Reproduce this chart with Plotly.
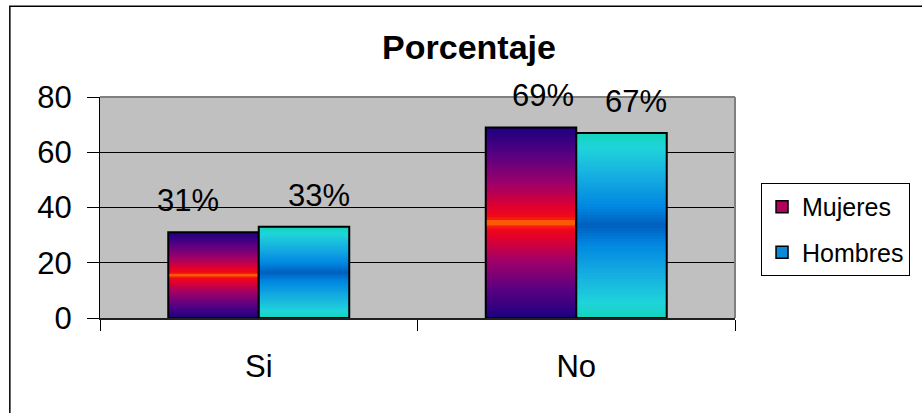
import plotly.graph_objects as go

# ---------------- data ----------------
categories = ["Si", "No"]
series_names = ["Mujeres", "Hombres"]
mujeres = [31, 69]
hombres = [33, 67]
mujeres_labels = ["31%", "69%"]
hombres_labels = ["33%", "67%"]
y_ticks = [0, 20, 40, 60, 80]

# ---------------- style ----------------
FONT = "Liberation Sans, Arial, sans-serif"
# gradient stops (t from bar bottom to mid-height), mirrored for the upper half
mujeres_stops = [(0.0, (28, 0, 128)), (0.15, (90, 0, 130)), (0.30, (160, 0, 105)),
                 (0.42, (225, 0, 45)), (0.475, (245, 10, 20)), (0.5, (255, 120, 0))]
hombres_stops = [(0.0, (18, 212, 188)), (0.08, (32, 212, 218)), (0.25, (20, 170, 225)),
                 (0.40, (0, 135, 225)), (0.5, (0, 95, 190))]
legend_colors = ["#b0005a", "#0a8ad8"]
label_xshift = {"Mujeres": [-25, 13], "Hombres": [14, 14]}
N_SEG = 70


def grad(stops, t):
    t = t if t <= 0.5 else 1 - t
    for (t0, c0), (t1, c1) in zip(stops[:-1], stops[1:]):
        if t0 <= t <= t1:
            f = (t - t0) / (t1 - t0) if t1 > t0 else 0
            c = [round(a + (b - a) * f) for a, b in zip(c0, c1)]
            return f"rgb({c[0]},{c[1]},{c[2]})"
    c = stops[-1][1]
    return f"rgb({c[0]},{c[1]},{c[2]})"


fig = go.Figure()

series = [("Mujeres", mujeres, mujeres_labels, mujeres_stops, "M", legend_colors[0]),
          ("Hombres", hombres, hombres_labels, hombres_stops, "H", legend_colors[1])]

for name, vals, labels, stops, grp, lcol in series:
    for k in range(N_SEG):
        t = (k + 0.5) / N_SEG
        bases = [v * k / N_SEG for v in vals]
        heights = [min(v / N_SEG * 1.8, v - b) for v, b in zip(vals, bases)]
        fig.add_trace(go.Bar(
            x=categories, y=heights, base=bases, offsetgroup=grp,
            marker=dict(color=grad(stops, t), line=dict(width=0)),
            showlegend=False, hoverinfo="skip"))
    # outline
    fig.add_trace(go.Bar(
        x=categories, y=vals, offsetgroup=grp, name=name,
        marker=dict(color="rgba(0,0,0,0)", line=dict(color="black", width=2)),
        showlegend=False))
    # legend entry
    fig.add_trace(go.Bar(
        x=categories, y=[None] * len(categories), offsetgroup=grp, name=name,
        legendgroup=name,
        marker=dict(color=lcol, line=dict(color="black", width=1.5)),
        showlegend=True))
    off = -46 if grp == "M" else 46
    for c, v, lab, xs in zip(categories, vals, labels, label_xshift[name]):
        fig.add_annotation(x=c, y=v, xref="x", yref="y", text=lab, showarrow=False,
                           xshift=off + xs, yshift=12, yanchor="bottom",
                           font=dict(family=FONT, size=31, color="black"))

# plot-area border (top and right, grey)
fig.add_shape(type="line", xref="x domain", yref="y domain", x0=0, x1=1, y0=1, y1=1,
              line=dict(color="#808080", width=2), layer="above")
fig.add_shape(type="line", xref="x domain", yref="y domain", x0=1, x1=1, y0=0, y1=1,
              line=dict(color="#808080", width=2), layer="above")
# outer chart border
fig.add_shape(type="rect", xref="paper", yref="paper", x0=-0.142, x1=1.3, y0=-0.5, y1=1.411,
              line=dict(color="black", width=1.5), layer="above")

fig.update_layout(
    width=922, height=413,
    margin=dict(l=100, r=181, t=97, b=95),
    paper_bgcolor="white", plot_bgcolor="#c0c0c0",
    barmode="group", bargap=0.43, bargroupgap=0,
    font=dict(family=FONT, size=24, color="black"),
    title=dict(text="<b>Porcentaje</b>", x=469 / 922, xref="container", xanchor="center",
               y=1 - 47 / 413, yanchor="middle",
               font=dict(family=FONT, size=34, color="black")),
    showlegend=True,
    legend=dict(x=1.041, y=0.611, xanchor="left", yanchor="top",
                bgcolor="white", bordercolor="black", borderwidth=1,
                font=dict(family=FONT, size=25, color="black"),
                tracegroupgap=10, traceorder="grouped"),
    xaxis=dict(type="category", showline=True, linecolor="#202020", linewidth=2,
               ticks="outside", tickson="boundaries", ticklen=11, tickcolor="black",
               tickwidth=1, showgrid=False, tickfont=dict(size=31),
               ticklabelstandoff=20),
    yaxis=dict(range=[0, 80], tickvals=y_ticks, showline=True, linecolor="black",
               linewidth=1, ticks="outside", ticklen=12, tickcolor="black",
               showgrid=True, gridcolor="black", gridwidth=1, zeroline=False,
               tickfont=dict(size=31), ticklabelstandoff=9),
)

fig.write_html("out.html", config={"displayModeBar": False},
               post_script="document.body.style.margin='0';")
